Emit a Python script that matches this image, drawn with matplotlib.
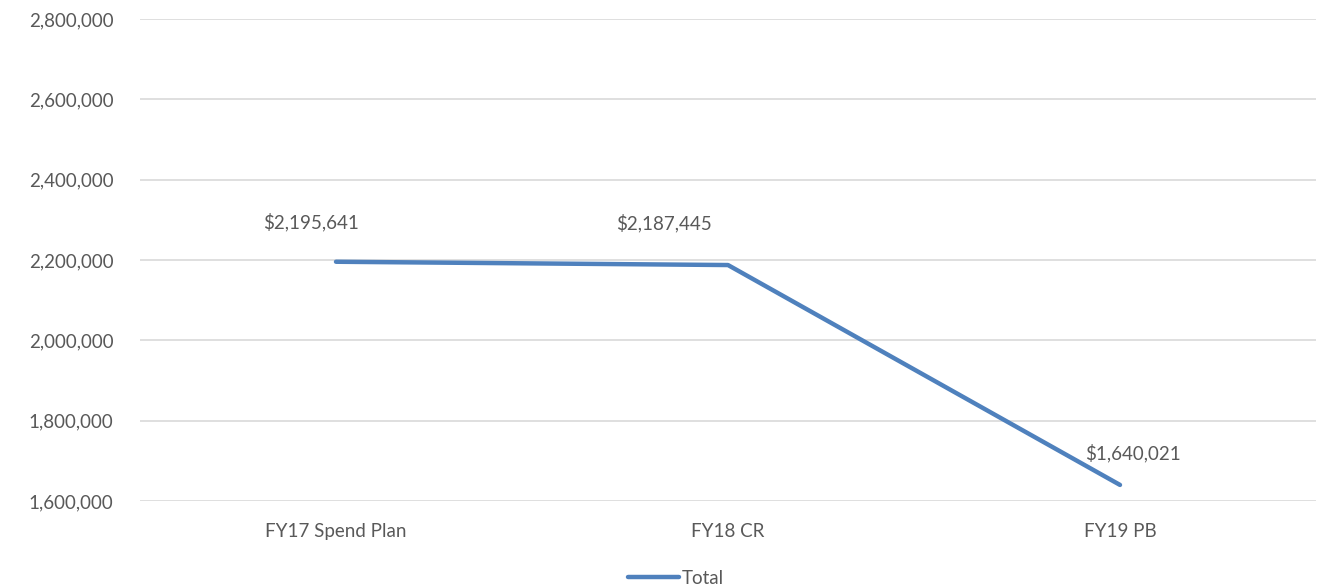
import matplotlib.pyplot as plt
from matplotlib.ticker import FuncFormatter

plt.rcParams['font.family'] = ['Lato', 'DejaVu Sans']

# --- Data ---
categories = ['FY17 Spend Plan', 'FY18 CR', 'FY19 PB']
totals = [2195641, 2187445, 1640021]
y_ticks = [1600000, 1800000, 2000000, 2200000, 2400000, 2600000, 2800000]

# label offsets (pixels) -- labels in the original were nudged by hand
label_offsets = [(-25, 40), (-64, 42), (13, 32)]

text_color = '#595959'
line_color = '#4F81BD'

fig = plt.figure(figsize=(13.21, 5.88), dpi=100)
ax = fig.add_axes([140 / 1321, 1 - 501 / 588, 1176 / 1321, 482 / 588])

x = list(range(len(categories)))
ax.plot(x, totals, color=line_color, linewidth=3.2, solid_capstyle='round',
        solid_joinstyle='round', label='Total', zorder=3)

for xi, val, (dx, dy) in zip(x, totals, label_offsets):
    ax.annotate(f'${val:,.0f}', (xi, val), xytext=(dx * 0.72, dy * 0.72),
                textcoords='offset points', ha='center', va='center',
                fontsize=13.5, color=text_color)

ax.set_xlim(-0.5, len(categories) - 0.5)
ax.set_ylim(1600000, 2800000)
ax.set_yticks(y_ticks)
ax.yaxis.set_major_formatter(FuncFormatter(lambda v, p: f'{v:,.0f}'))
ax.set_xticks(x)
ax.set_xticklabels(categories)

ax.tick_params(axis='y', length=0, pad=19, labelsize=13.5, labelcolor=text_color)
ax.tick_params(axis='x', length=0, pad=16, labelsize=13.5, labelcolor=text_color)

for spine in ax.spines.values():
    spine.set_visible(False)
ax.grid(axis='y', color='#d9d9d9', linewidth=1.2)
ax.set_axisbelow(True)

ax.legend(loc='center', bbox_to_anchor=(676 / 1321, 1 - 578 / 588),
          bbox_transform=fig.transFigure, frameon=False, fontsize=13.5,
          handlelength=2.7, handletextpad=0.15, labelcolor=text_color)

plt.savefig('out.png', dpi=100, facecolor='white')
